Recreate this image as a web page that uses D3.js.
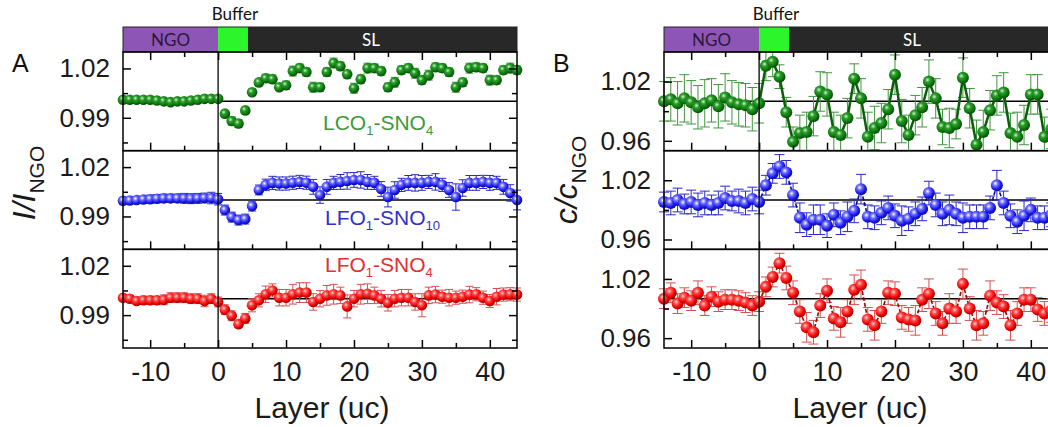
<!DOCTYPE html>
<html>
<head>
<meta charset="utf-8">
<script src="https://cdn.jsdelivr.net/npm/d3@7"></script>
<style>
  body { margin: 0; background: #fff; }
  svg { display: block; font-family: "Liberation Sans", Arial, sans-serif; }
</style>
</head>
<body>
<svg id="chart"></svg>
<script>
// layer index (uc), same for every series
const layers = [-14, -13, -12, -11, -10, -9, -8, -7, -6, -5, -4, -3, -2, -1, 0,
  1, 2, 3, 4, 5, 6, 7, 8, 9, 10, 11, 12, 13, 14, 15, 16, 17, 18, 19, 20,
  21, 22, 23, 24, 25, 26, 27, 28, 29, 30, 31, 32, 33, 34, 35, 36, 37, 38, 39, 40,
  41, 42, 43, 44];

// Panel A: I / I_NGO
const intLCO4 = [1.001, 1.001, 1.001, 1.001, 1.001, 1.0005, 1.000, 0.9995, 1.000, 1.000, 1.0005, 1.001, 1.0015, 1.0015, 1.0015,
  0.9925, 0.9880, 0.9865, 0.9945, 1.0055, 1.0115, 1.0140, 1.0135, 1.0086, 1.0098,
  1.0184, 1.0202, 1.0178, 1.0086, 1.0086, 1.0178, 1.0233, 1.0214, 1.0165, 1.0080,
  1.0135, 1.0202, 1.0202, 1.0184, 1.0086, 1.0116, 1.0190, 1.0202, 1.0171, 1.0129,
  1.0159, 1.0208, 1.0202, 1.0178, 1.0086, 1.0116, 1.0202, 1.0208, 1.0202, 1.0129,
  1.0129, 1.0190, 1.0202, 1.0190];
const intLCO4Err = [0.0015, 0.0015, 0.0015, 0.0015, 0.0015, 0.0015, 0.0015, 0.0015, 0.0015, 0.0015, 0.0015, 0.0015, 0.0015, 0.0015, 0.0015,
  0.002, 0.0025, 0.0025, 0.002, 0.002, 0.002, 0.0025, 0.0025, 0.002, 0.0025,
  0.003, 0.0025, 0.0025, 0.003, 0.0025, 0.0025, 0.003, 0.0025, 0.0025, 0.003,
  0.0025, 0.003, 0.0025, 0.0025, 0.0025, 0.003, 0.0025, 0.0025, 0.003, 0.0025,
  0.003, 0.0025, 0.0025, 0.0025, 0.003, 0.0025, 0.003, 0.0025, 0.0025, 0.003,
  0.0025, 0.0025, 0.003, 0.0025];

const intLFO10 = [0.9995, 0.9997, 1.000, 1.0003, 1.0005, 1.0008, 1.001, 1.001, 1.001, 1.001, 1.0008, 1.001, 1.0012, 1.0012, 1.0005,
  0.9939, 0.9896, 0.9878, 0.9884, 0.9963, 1.0061, 1.0092, 1.0104, 1.0100, 1.0100,
  1.0105, 1.0110, 1.0105, 1.0080, 1.0030, 1.0080, 1.0104, 1.0110, 1.0116, 1.0122,
  1.0122, 1.0110, 1.0104, 1.0067, 1.0018, 1.0061, 1.0092, 1.0104, 1.0104, 1.0104,
  1.0110, 1.0110, 1.0092, 1.0061, 1.0018, 1.0073, 1.0104, 1.0104, 1.0110, 1.0104,
  1.0104, 1.0080, 1.0043, 1.0000];
const intLFO10Err = [0.002, 0.002, 0.002, 0.002, 0.0025, 0.0025, 0.0025, 0.0025, 0.0025, 0.003, 0.003, 0.003, 0.003, 0.0035, 0.0035,
  0.003, 0.003, 0.003, 0.003, 0.003, 0.003, 0.0035, 0.004, 0.004, 0.004,
  0.004, 0.004, 0.004, 0.0045, 0.005, 0.0045, 0.004, 0.0045, 0.005, 0.0045,
  0.005, 0.0045, 0.004, 0.0045, 0.006, 0.005, 0.004, 0.0045, 0.005, 0.0045,
  0.004, 0.005, 0.004, 0.0045, 0.008, 0.005, 0.0045, 0.0045, 0.004, 0.0045,
  0.004, 0.0045, 0.005, 0.006];

const intLFO4 = [1.0005, 1.000, 0.9986, 0.999, 0.999, 0.999, 0.9993, 1.0006, 1.0006, 1.0006, 1.000, 1.000, 0.9986, 1.000, 0.998,
  0.9933, 0.9896, 0.9845, 0.9880, 0.9960, 0.9990, 1.0027, 1.0050, 1.0006, 1.0006,
  1.0027, 1.0037, 1.0037, 0.9980, 1.0000, 1.0020, 1.0027, 1.0020, 0.9953, 1.0000,
  1.0027, 1.0030, 1.0020, 1.0000, 0.9975, 1.0000, 1.0006, 1.0006, 0.9980, 0.9960,
  1.0020, 1.0025, 1.0012, 1.0006, 1.0006, 1.0012, 1.0025, 1.0027, 1.0006, 0.9986,
  1.0012, 1.0025, 1.0027, 1.0025];
const intLFO4Err = [0.002, 0.002, 0.002, 0.0025, 0.0025, 0.0025, 0.003, 0.003, 0.003, 0.003, 0.003, 0.003, 0.0035, 0.003, 0.003,
  0.003, 0.003, 0.002, 0.003, 0.004, 0.004, 0.005, 0.004, 0.005, 0.005,
  0.006, 0.006, 0.006, 0.005, 0.005, 0.006, 0.006, 0.005, 0.007, 0.005,
  0.006, 0.006, 0.005, 0.005, 0.005, 0.005, 0.005, 0.005, 0.005, 0.007,
  0.005, 0.005, 0.004, 0.005, 0.004, 0.004, 0.005, 0.004, 0.004, 0.004,
  0.005, 0.004, 0.004, 0.004];

// Panel B: c / c_NGO
const cLCO4 = [1.000, 1.002, 0.998, 1.003, 0.999, 0.994, 0.998, 1.001, 0.995, 1.004, 0.999, 0.997, 0.996, 0.992, 0.998,
  1.036, 1.040, 1.025, 0.989, 0.959, 0.968, 0.969, 0.985, 1.010, 1.007,
  0.969, 0.966, 0.983, 1.023, 1.003, 0.964, 0.973, 0.978, 0.992, 1.027,
  0.980, 0.966, 0.986, 0.994, 1.020, 1.003, 0.974, 0.973, 0.977, 1.024,
  0.993, 0.956, 0.969, 0.991, 1.006, 1.009, 0.968, 0.964, 0.976, 1.007,
  1.007, 0.964, 0.972, 0.990];
const cLCO4Err = [0.02, 0.022, 0.022, 0.024, 0.022, 0.022, 0.024, 0.022, 0.022, 0.024, 0.022, 0.022, 0.022, 0.022, 0.02,
  0.015, 0.015, 0.012, 0.015, 0.015, 0.018, 0.02, 0.02, 0.02, 0.022,
  0.02, 0.02, 0.02, 0.015, 0.02, 0.025, 0.022, 0.02, 0.02, 0.02,
  0.022, 0.02, 0.02, 0.02, 0.022, 0.02, 0.018, 0.02, 0.015, 0.02,
  0.02, 0.025, 0.022, 0.02, 0.02, 0.02, 0.02, 0.025, 0.02, 0.02,
  0.02, 0.02, 0.02, 0.02];

const cLFO10 = [0.998, 0.997, 1.000, 0.996, 0.998, 0.995, 0.997, 0.995, 0.997, 1.002, 0.999, 0.999, 0.997, 1.001, 0.998,
  1.015, 1.027, 1.034, 1.028, 1.005, 0.982, 0.975, 0.980, 0.980, 0.974,
  0.985, 0.977, 0.983, 0.989, 1.011, 0.983, 0.982, 0.987, 0.992, 0.984,
  0.979, 0.981, 0.986, 0.991, 1.007, 0.995, 0.986, 0.990, 0.986, 0.982,
  0.983, 0.983, 0.983, 0.992, 1.015, 0.997, 0.984, 0.978, 0.984, 0.990,
  0.982, 0.982, 0.985, 0.983];
const cLFO10Err = [0.01, 0.012, 0.012, 0.01, 0.012, 0.012, 0.012, 0.01, 0.012, 0.012, 0.01, 0.012, 0.012, 0.012, 0.012,
  0.01, 0.01, 0.012, 0.012, 0.012, 0.015, 0.012, 0.015, 0.015, 0.012,
  0.012, 0.012, 0.015, 0.012, 0.015, 0.012, 0.012, 0.012, 0.012, 0.012,
  0.015, 0.012, 0.012, 0.012, 0.012, 0.012, 0.012, 0.015, 0.012, 0.015,
  0.012, 0.012, 0.012, 0.012, 0.015, 0.012, 0.012, 0.012, 0.015, 0.012,
  0.012, 0.012, 0.012, 0.012];

const cLFO4 = [1.000, 1.006, 0.995, 1.001, 0.998, 1.006, 0.993, 1.002, 0.997, 0.999, 0.999, 0.998, 0.996, 0.993, 0.997,
  1.012, 1.022, 1.036, 1.021, 1.006, 0.987, 0.971, 0.966, 0.993, 1.008,
  0.980, 0.976, 0.987, 1.009, 1.014, 0.979, 0.973, 0.987, 1.006, 1.005,
  0.981, 0.979, 0.978, 0.999, 1.005, 0.985, 0.975, 0.990, 0.987, 1.015,
  0.990, 0.973, 0.975, 1.003, 0.996, 0.992, 0.973, 0.985, 0.999, 0.999,
  0.989, 0.985, 0.988, 0.990];
const cLFO4Err = [0.01, 0.01, 0.01, 0.01, 0.01, 0.012, 0.01, 0.01, 0.01, 0.01, 0.01, 0.01, 0.01, 0.01, 0.01,
  0.01, 0.01, 0.01, 0.012, 0.012, 0.012, 0.015, 0.012, 0.012, 0.012,
  0.012, 0.015, 0.012, 0.015, 0.015, 0.012, 0.015, 0.012, 0.012, 0.012,
  0.012, 0.012, 0.015, 0.012, 0.015, 0.012, 0.012, 0.015, 0.012, 0.015,
  0.012, 0.015, 0.012, 0.015, 0.012, 0.012, 0.015, 0.012, 0.012, 0.012,
  0.012, 0.012, 0.012, 0.012];

// region bar above each panel
const bandNames = ["NGO", "", "SL"];
const bandStarts = [-14, 0, 4.4];
const bandEnds = [0, 4.4, 44];

const xMajor = [-10, 0, 10, 20, 30, 40];
const xMinor = [-5, 5, 15, 25, 35];
const yMajorA = [0.99, 1.02], yMinorA = [0.975, 1.005];
const yMajorB = [0.96, 1.02], yMinorB = [0.99];

const W = 1048, H = 427;
const rowTop = 52, rowH = 98.67;

const bandFill = ["#8d56b6", "#2cf52c", "#282828"];
const bandText = ["#2a1838", "#000", "#fff"];

const styles = {
    green: { stops: ["#d4f2d4", "#2c9e2c", "#0b760b", "#064306"], err: "#3e963e", line: "#0b5e0b", label: "#3a9a3a" },
    blue: { stops: ["#ffffff", "#7070ff", "#1818ec", "#08088f"], err: "#2a2ac4", line: "#0a0a90", label: "#3030c8" },
    red: { stops: ["#ffd8d8", "#ff4a4a", "#ec0000", "#960000"], err: "#d65050", line: "#a00000", label: "#e03030" }
};

const panels = [
    {
        letter: "A", x0: 123, x1: 517, yDomain: [0.97, 1.03], major: yMajorA, minor: yMinorA,
        lines: false, r: 5.3, cap: 4,
        rows: [
            { vals: intLCO4, err: intLCO4Err, style: "green", label: ["LCO", "1", "-SNO", "4"], lx: 323, ly: 130 },
            { vals: intLFO10, err: intLFO10Err, style: "blue", label: ["LFO", "1", "-SNO", "10"], lx: 325, ly: 225 },
            { vals: intLFO4, err: intLFO4Err, style: "red", label: ["LFO", "1", "-SNO", "4"], lx: 325, ly: 272 }
        ],
        ylab: { main: "I/I", x: 35, y: 183 }
    },
    {
        letter: "B", x0: 664, x1: 1058, yDomain: [0.95, 1.05], major: yMajorB, minor: yMinorB,
        lines: true, r: 6, cap: 5,
        rows: [
            { vals: cLCO4, err: cLCO4Err, style: "green" },
            { vals: cLFO10, err: cLFO10Err, style: "blue" },
            { vals: cLFO4, err: cLFO4Err, style: "red" }
        ],
        ylab: { main: "c/c", x: 577, y: 180 }
    }
];

const svg = d3.select("#chart")
    .attr("width", W)
    .attr("height", H)
    .attr("viewBox", `0 0 ${W} ${H}`);

svg.append("rect").attr("width", W).attr("height", H).attr("fill", "#fff");

// ball gradients
const defs = svg.append("defs");
Object.keys(styles).forEach(k => {
    const g = defs.append("radialGradient")
        .attr("id", "ball-" + k)
        .attr("cx", "38%").attr("cy", "36%").attr("r", "68%");
    [0, 0.3, 0.7, 1].forEach((o, i) => {
        g.append("stop").attr("offset", o).attr("stop-color", styles[k].stops[i]);
    });
});

function styleAxis(g) {
    g.select(".domain").remove();
    g.selectAll(".tick line").attr("stroke", "#000").attr("stroke-width", 1.5);
}

panels.forEach((p, pi) => {
    const x = d3.scaleLinear().domain([-14, 44]).range([p.x0, p.x1]);
    const root = svg.append("g");

    // region bar
    const barTop = 27;
    bandNames.forEach((name, i) => {
        root.append("rect")
            .attr("x", x(bandStarts[i]))
            .attr("y", barTop)
            .attr("width", x(bandEnds[i]) - x(bandStarts[i]))
            .attr("height", rowTop - barTop)
            .attr("fill", bandFill[i]);
    });
    root.append("rect")
        .attr("x", p.x0).attr("y", barTop)
        .attr("width", p.x1 - p.x0).attr("height", rowTop - barTop)
        .attr("fill", "none").attr("stroke", "#222").attr("stroke-width", 1);
    root.append("text")
        .attr("x", x((bandStarts[0] + bandEnds[0]) / 2))
        .attr("y", 46)
        .attr("text-anchor", "middle")
        .attr("font-family", "Lato, 'Open Sans', sans-serif")
        .attr("font-size", 17)
        .attr("fill", bandText[0])
        .text(bandNames[0]);
    root.append("text")
        .attr("x", x(22.5))
        .attr("y", 46)
        .attr("text-anchor", "middle")
        .attr("font-family", "Lato, 'Open Sans', sans-serif")
        .attr("font-size", 17)
        .attr("fill", bandText[2])
        .text(bandNames[2]);
    root.append("text")
        .attr("x", x((bandStarts[1] + bandEnds[1]) / 2) + 2)
        .attr("y", 20)
        .attr("text-anchor", "middle")
        .attr("font-family", "Lato, 'Open Sans', sans-serif")
        .attr("font-size", 17)
        .attr("fill", "#111")
        .text("Buffer");

    // panel letter
    root.append("text")
        .attr("x", p.x0 - 111)
        .attr("y", 72)
        .attr("font-size", 25)
        .attr("fill", "#111")
        .text(p.letter);

    p.rows.forEach((row, ri) => {
        const top = rowTop + ri * rowH;
        const bottom = top + rowH;
        const y = d3.scaleLinear().domain(p.yDomain).range([bottom, top]);
        const st = styles[row.style];
        const g = root.append("g");

        const clipId = `clip-${pi}-${ri}`;
        defs.append("clipPath").attr("id", clipId)
            .append("rect")
            .attr("x", p.x0 - 8).attr("y", top)
            .attr("width", p.x1 - p.x0 + 16).attr("height", rowH);

        // reference line at 1
        g.append("line")
            .attr("x1", p.x0).attr("x2", p.x1)
            .attr("y1", y(1)).attr("y2", y(1))
            .attr("stroke", "#000").attr("stroke-width", 1.5);

        const pts = layers.map((l, i) => ({ l: l, v: row.vals[i], e: row.err[i] }));
        const plot = g.append("g").attr("clip-path", `url(#${clipId})`);

        // error bars
        const eb = plot.append("g")
            .attr("stroke", st.err)
            .attr("stroke-width", 1);
        pts.forEach(d => {
            const cx = x(d.l);
            eb.append("line").attr("x1", cx).attr("x2", cx)
                .attr("y1", y(d.v - d.e)).attr("y2", y(d.v + d.e));
            eb.append("line").attr("x1", cx - p.cap).attr("x2", cx + p.cap)
                .attr("y1", y(d.v - d.e)).attr("y2", y(d.v - d.e));
            eb.append("line").attr("x1", cx - p.cap).attr("x2", cx + p.cap)
                .attr("y1", y(d.v + d.e)).attr("y2", y(d.v + d.e));
        });

        if (p.lines) {
            plot.append("path")
                .datum(pts)
                .attr("fill", "none")
                .attr("stroke", st.line)
                .attr("stroke-width", row.style === "green" ? 2.5 : 1.6)
                .attr("stroke-dasharray", row.style === "green" ? null : "4,2")
                .attr("d", d3.line().x(d => x(d.l)).y(d => y(d.v)));
        }

        plot.selectAll("circle")
            .data(pts)
            .enter().append("circle")
            .attr("cx", d => x(d.l))
            .attr("cy", d => y(d.v))
            .attr("r", p.r)
            .attr("fill", `url(#ball-${row.style})`);

        // frame
        g.append("rect")
            .attr("x", p.x0).attr("y", top)
            .attr("width", p.x1 - p.x0).attr("height", rowH)
            .attr("fill", "none").attr("stroke", "#000").attr("stroke-width", 1.5);

        // y axes (inward ticks)
        g.append("g").attr("transform", `translate(${p.x0},0)`)
            .call(d3.axisLeft(y).tickValues(p.major).tickSize(-8).tickPadding(13).tickFormat(d3.format(".2f")))
            .call(styleAxis)
            .selectAll("text").attr("font-size", 26).attr("fill", "#1a1a1a")
            .attr("font-family", "'Liberation Sans', Arial, sans-serif");
        g.append("g").attr("transform", `translate(${p.x0},0)`)
            .call(d3.axisLeft(y).tickValues(p.minor).tickSize(-5).tickFormat(""))
            .call(styleAxis);
        g.append("g").attr("transform", `translate(${p.x1},0)`)
            .call(d3.axisRight(y).tickValues(p.major).tickSize(-8).tickFormat(""))
            .call(styleAxis);
        g.append("g").attr("transform", `translate(${p.x1},0)`)
            .call(d3.axisRight(y).tickValues(p.minor).tickSize(-5).tickFormat(""))
            .call(styleAxis);

        // x axes
        const last = ri === p.rows.length - 1;
        const bx = g.append("g").attr("transform", `translate(0,${bottom})`)
            .call(d3.axisBottom(x).tickValues(xMajor).tickSize(-8).tickPadding(14)
                .tickFormat(last ? (d => String(d)) : ""))
            .call(styleAxis);
        bx.selectAll("text").attr("font-size", 27).attr("fill", "#1a1a1a")
            .attr("font-family", "'Liberation Sans', Arial, sans-serif");
        g.append("g").attr("transform", `translate(0,${bottom})`)
            .call(d3.axisBottom(x).tickValues(xMinor).tickSize(-5).tickFormat(""))
            .call(styleAxis);
        if (ri === 0) {
            g.append("g").attr("transform", `translate(0,${top})`)
                .call(d3.axisTop(x).tickValues(xMajor).tickSize(-8).tickFormat(""))
                .call(styleAxis);
            g.append("g").attr("transform", `translate(0,${top})`)
                .call(d3.axisTop(x).tickValues(xMinor).tickSize(-5).tickFormat(""))
                .call(styleAxis);
        }

        // sample label
        if (row.label) {
            const t = g.append("text")
                .attr("x", row.lx).attr("y", row.ly)
                .attr("font-size", 21)
                .attr("fill", st.label);
            t.append("tspan").text(row.label[0]);
            t.append("tspan").attr("dy", 5).attr("font-size", 13).text(row.label[1]);
            t.append("tspan").attr("dy", -5).text(row.label[2]);
            t.append("tspan").attr("dy", 5).attr("font-size", 13).text(row.label[3]);
        }
    });

    // vertical line at the interface
    root.append("line")
        .attr("x1", x(0)).attr("x2", x(0))
        .attr("y1", rowTop).attr("y2", rowTop + 3 * rowH)
        .attr("stroke", "#000").attr("stroke-width", 1.3);

    // x label
    root.append("text")
        .attr("x", (p.x0 + Math.min(p.x1, 1058)) / 2 + (pi === 0 ? 2 : -1))
        .attr("y", 418)
        .attr("text-anchor", "middle")
        .attr("font-size", 30)
        .attr("fill", "#1a1a1a")
        .text("Layer (uc)");

    // y label
    const yl = root.append("text")
        .attr("transform", `translate(${p.ylab.x},${p.ylab.y}) rotate(-90)`)
        .attr("text-anchor", "middle")
        .attr("fill", "#1a1a1a");
    yl.append("tspan").attr("font-size", 32).attr("font-style", "italic").text(p.ylab.main);
    yl.append("tspan").attr("font-size", 21).attr("dy", 9).text("NGO");
});
</script>
</body>
</html>
